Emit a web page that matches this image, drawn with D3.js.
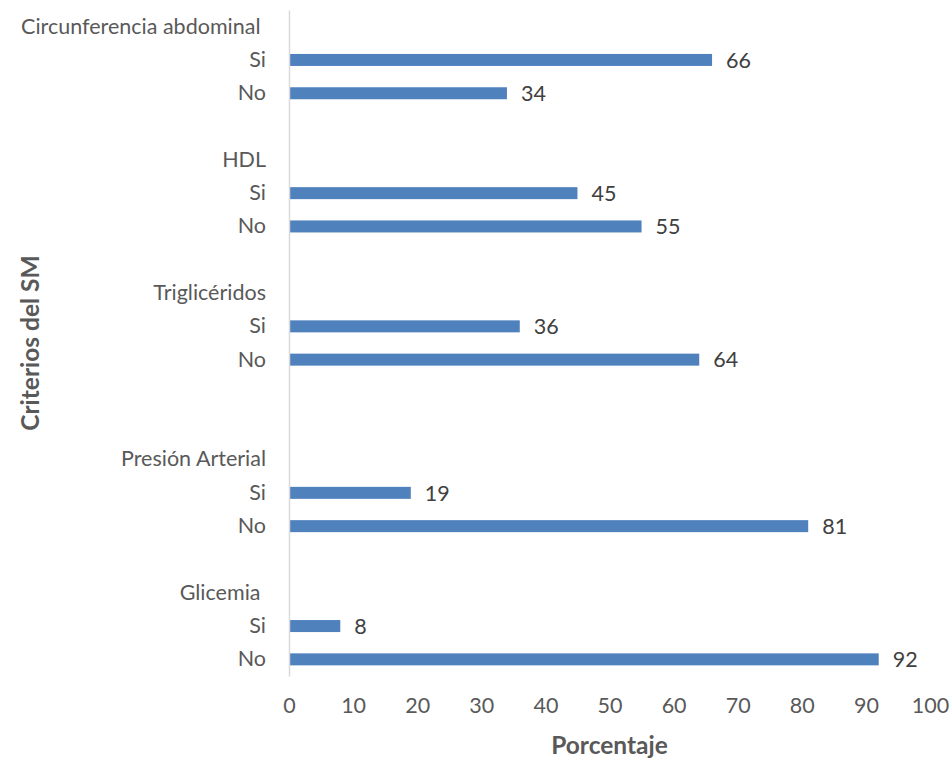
<!DOCTYPE html>
<html>
<head>
<meta charset="utf-8">
<script src="https://cdn.jsdelivr.net/npm/d3@7"></script>
<style>
  html, body { margin: 0; padding: 0; background: #fff; }
  svg text { font-family: Lato, "Open Sans", sans-serif; white-space: pre; }
</style>
</head>
<body>
<svg id="chart" width="950" height="759"></svg>
<script>
// Row labels, top to bottom (empty strings are spacer rows between groups)
const categories = [
  "Circunferencia abdominal ", "Si", "No", "",
  "HDL", "Si", "No", "",
  "Triglicéridos", "Si", "No", "", "",
  "Presión Arterial", "Si", "No", "",
  "Glicemia ", "Si", "No"
];
// Percentage for each row (null = header or spacer row, no bar)
const values = [
  null, 66, 34, null,
  null, 45, 55, null,
  null, 36, 64, null, null,
  null, 19, 81, null,
  null, 8, 92
];
const xTicks = [0, 10, 20, 30, 40, 50, 60, 70, 80, 90, 100];

const rows = categories.map((c, i) => ({ id: i, label: c, value: values[i] }));

const svg = d3.select("#chart");
const plotLeft = 289, plotRight = 930, plotTop = 10, plotBottom = 676;

const x = d3.scaleLinear().domain([0, 100]).range([plotLeft, plotRight]);
const y = d3.scaleBand().domain(rows.map(d => d.id)).range([plotTop, plotBottom]).paddingInner(0);

const barColor = "#4f81bd";
const textColor = "#595959";
const barH = 12;
const fs = 21.5;

// Bars
svg.append("g").selectAll("rect")
  .data(rows.filter(d => d.value != null))
  .join("rect")
  .attr("x", x(0))
  .attr("y", d => y(d.id) + y.bandwidth() / 2 - barH / 2)
  .attr("width", d => x(d.value) - x(0))
  .attr("height", barH)
  .attr("fill", barColor);

// Value labels
svg.append("g").selectAll("text")
  .data(rows.filter(d => d.value != null))
  .join("text")
  .attr("x", d => x(d.value) + 14)
  .attr("y", d => y(d.id) + y.bandwidth() / 2)
  .attr("dy", "0.36em")
  .attr("font-size", fs)
  .attr("fill", "#404040")
  .text(d => d.value);

// Category axis (labels only, light vertical line)
const yAxis = d3.axisLeft(y).tickSize(0).tickPadding(23).tickFormat(i => rows[i].label);
const gy = svg.append("g").attr("transform", `translate(${plotLeft},0)`).call(yAxis);
gy.select(".domain").attr("stroke", "#d9d9d9").attr("stroke-width", 1.5);
gy.selectAll("text")
  .attr("font-size", fs)
  .attr("fill", textColor)
  .attr("font-family", "Lato, 'Open Sans', sans-serif");

// Value axis (tick labels only)
const xAxis = d3.axisBottom(x).tickValues(xTicks).tickSize(0).tickPadding(22);
const gx = svg.append("g").attr("transform", `translate(0,${plotBottom})`).call(xAxis);
gx.select(".domain").remove();
gx.selectAll("text")
  .attr("font-size", fs)
  .attr("fill", textColor)
  .attr("font-family", "Lato, 'Open Sans', sans-serif");

// Axis titles
svg.append("text")
  .attr("x", (plotLeft + plotRight) / 2)
  .attr("y", 754)
  .attr("text-anchor", "middle")
  .attr("font-size", 24.5)
  .attr("font-weight", "bold")
  .attr("fill", textColor)
  .text("Porcentaje");

svg.append("text")
  .attr("transform", `translate(39,${(plotTop + plotBottom) / 2}) rotate(-90)`)
  .attr("text-anchor", "middle")
  .attr("font-size", 24.5)
  .attr("font-weight", "bold")
  .attr("fill", textColor)
  .text("Criterios del SM");
</script>
</body>
</html>
